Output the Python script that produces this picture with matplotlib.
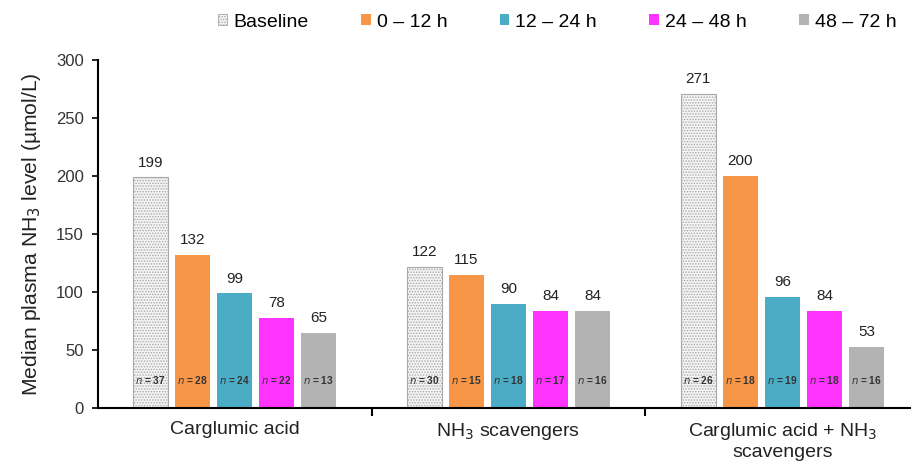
import matplotlib.pyplot as plt
from matplotlib.patches import Patch
import numpy as np

plt.rcParams['font.family'] = ['Liberation Sans', 'DejaVu Sans']
plt.rcParams['hatch.linewidth'] = 0.7

# data
groups = ['Carglumic acid', 'NH$_3$ scavengers', 'Carglumic acid + NH$_3$\nscavengers']
periods = ['Baseline', '0 – 12 h', '12 – 24 h', '24 – 48 h', '48 – 72 h']
medians = [
    [199, 122, 271],   # Baseline
    [132, 115, 200],   # 0-12 h
    [99, 90, 96],      # 12-24 h
    [78, 84, 84],      # 24-48 h
    [65, 84, 53],      # 48-72 h
]
counts = [
    [37, 30, 26],
    [28, 15, 18],
    [24, 18, 19],
    [22, 17, 18],
    [13, 16, 16],
]
colors = ['#f4f4f4', '#F79646', '#4BACC6', '#FF33FF', '#B3B3B3']

fig = plt.figure(figsize=(9.12, 4.69), dpi=100)
ax = fig.add_axes([0.107, 0.130, 0.893, 0.742])

x = np.arange(len(groups))
width = 0.128
step = 0.1535

for i, per in enumerate(periods):
    pos = x + (i - 2) * step
    if i == 0:
        bars = ax.bar(pos, medians[i], width, color=colors[i], edgecolor='#a8a8a8',
                      hatch='......', linewidth=0.8)
    else:
        bars = ax.bar(pos, medians[i], width, color=colors[i], linewidth=0)
    for b, v, n in zip(bars, medians[i], counts[i]):
        ax.annotate(str(v), (b.get_x() + b.get_width() / 2, v), xytext=(0, 5.5),
                    textcoords='offset points', ha='center', va='bottom',
                    fontsize=11, color='#222222')
        ax.text(b.get_x() + b.get_width() / 2, 24, r'$\it{n}$ = %d' % n,
                ha='center', va='center', fontsize=7.3, fontweight='bold',
                color='#333333')

ax.set_xlim(-0.5, 2.473)
ax.set_ylim(0, 300)
ax.set_yticks(range(0, 301, 50))
ax.tick_params(axis='y', labelsize=12, direction='out', length=4, width=1.2,
               pad=6, colors='black', labelcolor='#333333')
ax.set_xticks(x)
ax.set_xticklabels(groups, fontsize=14, color='#222222')
ax.tick_params(axis='x', which='major', length=0, pad=9)
ax.set_xticks([0.5, 1.5], minor=True)
ax.tick_params(axis='x', which='minor', length=6, width=1.5, direction='out')

ax.spines['top'].set_visible(False)
ax.spines['right'].set_visible(False)
ax.spines['left'].set_linewidth(1.5)
ax.spines['bottom'].set_linewidth(1.5)

ax.set_ylabel('Median plasma NH$_3$ level (µmol/L)', fontsize=15.2, color='#222222',
              labelpad=9)

handles = []
for i, per in enumerate(periods):
    if i == 0:
        handles.append(Patch(facecolor=colors[i], edgecolor='#a8a8a8', hatch='......',
                             linewidth=0.6, label=per))
    else:
        handles.append(Patch(facecolor=colors[i], edgecolor='none', label=per))
fig.legend(handles=handles, loc='upper right', bbox_to_anchor=(1.002, 1.008), ncol=5,
           frameon=False, fontsize=14, handlelength=0.5, handleheight=0.5,
           handletextpad=0.3, columnspacing=2.7)

fig.savefig('out.png', dpi=100)
